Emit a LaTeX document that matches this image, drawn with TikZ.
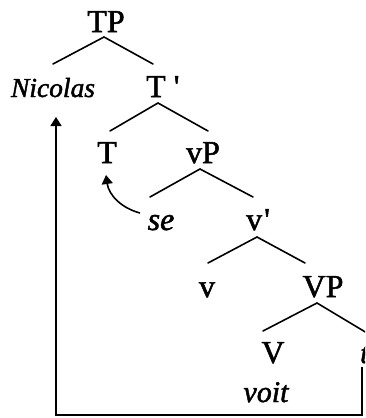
\documentclass[tikz,border=0pt]{standalone}
\usepackage{fontspec}
\setmainfont{Liberation Serif}[Ligatures=TeXOff, FakeBold=1.6]
\usetikzlibrary{arrows.meta}
\begin{document}
\begin{tikzpicture}[x=1pt,y=-1pt,
  lab/.style={anchor=base, inner sep=0pt, font=\fontsize{32}{36}\selectfont},
  ital/.style={anchor=base, inner sep=0pt, font=\fontsize{28}{32}\selectfont\itshape},
  branch/.style={line width=1.6pt, line cap=round},
  move/.style={line width=1.6pt, -{Triangle[length=9pt,width=11pt]}}]
\useasboundingbox (0,0) rectangle (365,418);
\clip (0,0) rectangle (365,418);
% labels
\node[lab] (TP) at (106,32) {TP};
\node[ital, font=\fontsize{27.5}{30}\selectfont\itshape] (Nicolas) at (53,97) {Nicolas};
\node[lab, anchor=base west] (Tbar) at (146,97) {T '};
\node[lab] (T) at (107,163) {T};
\node[lab] (vP) at (203,163) {vP};
\node[ital, font=\fontsize{32}{36}\selectfont\itshape] (se) at (161,230) {se};
\node[lab, anchor=base west] (vbar) at (246,230) {v\kern2pt'};
\node[lab] (v) at (207,297) {v};
\node[lab] (VP) at (323,297) {VP};
\node[lab] (V) at (273,363) {V};
\node[ital, font=\fontsize{30}{34}\selectfont\itshape] (voit) at (266,402) {voit};
\node[ital, font=\fontsize{30}{34}\selectfont\itshape, anchor=base west] (tr) at (360,363) {t};
% branch points
\coordinate (aTP) at (104,37);   \coordinate (lTP) at (53,64);   \coordinate (rTP) at (153,64);
\coordinate (aTb) at (158,103);  \coordinate (lTb) at (110,131); \coordinate (rTb) at (208,131);
\coordinate (avP) at (200,169);  \coordinate (lvP) at (150,197); \coordinate (rvP) at (253,197);
\coordinate (avb) at (257,237);  \coordinate (lvb) at (208,263); \coordinate (rvb) at (305,263);
\coordinate (aVP) at (317,303);  \coordinate (lVP) at (263,331); \coordinate (rVP) at (372,336);
\draw[branch] (lTP) -- (aTP) -- (rTP);
\draw[branch] (lTb) -- (aTb) -- (rTb);
\draw[branch] (lvP) -- (avP) -- (rvP);
\draw[branch] (lvb) -- (avb) -- (rvb);
\draw[branch] (lVP) -- (aVP) -- (rVP);
% movement arrows
\coordinate (seStart) at (140,213);
\coordinate (Ttip) at (106,175);
\draw[move] (seStart) to[out=165,in=-82] (Ttip);
\coordinate (rtop) at (362,367);
\coordinate (rbot) at (362,415);
\coordinate (lbot) at (56,415);
\coordinate (Ntip) at (56,117);
\draw[move] (rtop) -- (rbot) -- (lbot) -- (Ntip);
\end{tikzpicture}
\end{document}
